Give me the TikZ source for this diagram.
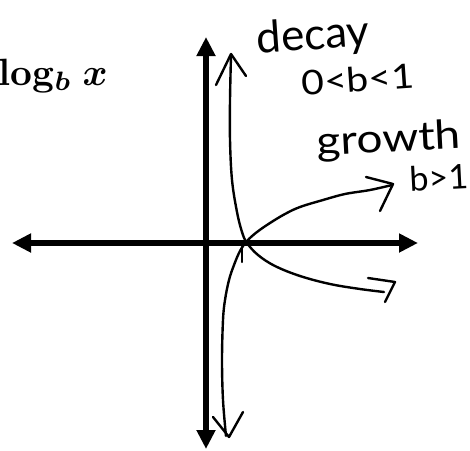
\documentclass[tikz,border=0pt]{standalone}
\usepackage{bm}
\usepackage{fontspec}
\newfontfamily\hand{Lato}
\usetikzlibrary{arrows.meta}
\begin{document}
\begin{tikzpicture}[x=1pt,y=-1pt,
  axisline/.style={line width=6.5pt, {Triangle[length=19pt,width=18pt]}-{Triangle[length=19pt,width=18pt]}},
  curveline/.style={line width=2.4pt, line cap=round, line join=round},
  handtxt/.style={font=\hand\fontsize{#1}{#1}\selectfont, inner sep=0pt}]
\useasboundingbox (0,0) rectangle (470,450);
% axes
\coordinate (xl) at (12,243);
\coordinate (xr) at (418,243);
\coordinate (yt) at (206,37);
\coordinate (yb) at (206,449);
\draw[axisline] (xl) -- (xr);
\draw[axisline] (yb) -- (yt);
% title
\node[anchor=north west, inner sep=0pt, scale=3.8, transform shape] (title) at (-2,58) {\textbf{log}$_{\bm{b}}\;\bm{x}$};
% decay curve
\draw[curveline] plot[smooth, tension=0.6] coordinates {(231,55) (230,100) (230,140) (232,180) (237,212) (242,232) (247,243) (258,255) (275,266) (300,276) (330,284) (360,289) (384,292)};
\draw[curveline] (216,85) -- (231,54) -- (246,76);
\draw[curveline] (368,278) -- (395,282) -- (385,302);
\draw[curveline] (242,247) -- (242,262);
% growth curve
\draw[curveline] plot[smooth, tension=0.6] coordinates {(226,436) (223,400) (222,360) (223,320) (225,300) (229,280) (234,265) (240,251) (247,241) (257,232) (270,223) (285,214) (300,207) (323,200) (345,194) (370,190) (392,185)};
\draw[curveline] (213,417) -- (229,437) -- (243,412);
\draw[curveline] (366,177) -- (393,184) -- (380,211);
% labels
\node[handtxt=44, rotate=4] (decay) at (313,37) {decay};
\node[handtxt=34, rotate=4, xscale=1.15] (dcond) at (358,79) {0<b<1};
\node[handtxt=40, rotate=3, xscale=1.15] (growth) at (389,141) {growth};
\node[handtxt=34, rotate=3] (gcond) at (439,178) {b>1};
\end{tikzpicture}
\end{document}
